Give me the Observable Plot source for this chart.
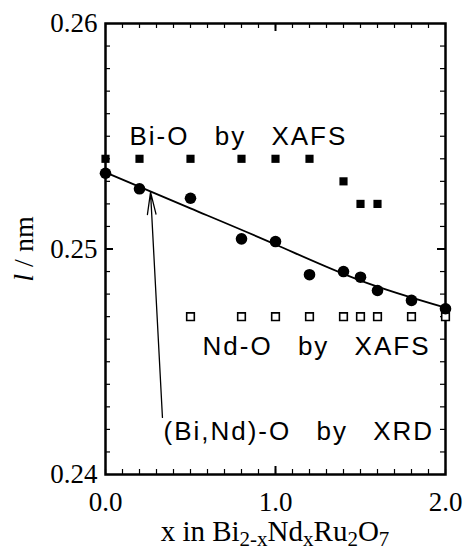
<!DOCTYPE html>
<html><head><meta charset="utf-8">
<script src="https://cdn.jsdelivr.net/npm/d3@7"></script>
<script src="https://cdn.jsdelivr.net/npm/@observablehq/plot@0.6"></script>
<style>
body{margin:0;background:#fff}
#chart{width:467px;height:553px}
g[aria-label="text"] text{letter-spacing:2px;word-spacing:16px}
</style>
</head><body><div id="chart"></div>
<script>
// (Bi,Nd)-O by XRD (filled circles)
const xrdX = [0, 0.2, 0.5, 0.8, 1.0, 1.2, 1.4, 1.5, 1.6, 1.8, 2.0];
const xrdY = [0.25336, 0.25267, 0.25225, 0.25045, 0.25033, 0.24886, 0.24900, 0.24875, 0.24816, 0.24772, 0.24735];
// Bi-O by XAFS (filled squares)
const biX = [0, 0.2, 0.5, 0.8, 1.0, 1.2, 1.4, 1.5, 1.6];
const biY = [0.254, 0.254, 0.254, 0.254, 0.254, 0.254, 0.253, 0.252, 0.252];
// Nd-O by XAFS (open squares)
const ndX = [0.5, 0.8, 1.0, 1.2, 1.4, 1.5, 1.6, 1.8, 2.0];
const ndY = [0.247, 0.247, 0.247, 0.247, 0.247, 0.247, 0.247, 0.247, 0.247];
// fitted curve through XRD data
const fitX = [0, 0.5, 1.0, 1.5, 2.0];
const fitY = [0.2534, 0.2518, 0.2502, 0.2486, 0.2474];
// ticks
const xTickValues = [0, 1, 2];
const xTickLabels = ["0.0", "1.0", "2.0"];
const yTickValues = [0.24, 0.25, 0.26];
const yTickLabels = ["0.24", "0.25", "0.26"];
const xMinorTicks = [0,0.1,0.2,0.3,0.4,0.5,0.6,0.7,0.8,0.9,1.0,1.1,1.2,1.3,1.4,1.5,1.6,1.7,1.8,1.9,2.0];
const yMinorTicks = [0.240,0.241,0.242,0.243,0.244,0.245,0.246,0.247,0.248,0.249,0.250,0.251,0.252,0.253,0.254,0.255,0.256,0.257,0.258,0.259,0.260];
const xMajorInner = [1.0];
const yMajorInner = [0.25];
// annotations
const annText = ["Bi-O by XAFS", "Nd-O by XAFS", "(Bi,Nd)-O by XRD"];
const annX = [0.141, 0.571, 0.341];
const annY = [0.25463, 0.24532, 0.24151];
// arrow from label to curve
const arrowX1 = [0.335], arrowY1 = [0.24253], arrowX2 = [0.265], arrowY2 = [0.25252];

const xrd = xrdX.map((x, i) => ({x, y: xrdY[i]}));
const bi = biX.map((x, i) => ({x, y: biY[i]}));
const nd = ndX.map((x, i) => ({x, y: ndY[i]}));
const fit = fitX.map((x, i) => ({x, y: fitY[i]}));
const ann = annText.map((t, i) => ({t, x: annX[i], y: annY[i]}));
const arrows = arrowX1.map((x1, i) => ({x1, y1: arrowY1[i], x2: arrowX2[i], y2: arrowY2[i]}));

const W = 340, H = 451;
const chart = Plot.plot({
  width: 467, height: 553,
  marginTop: 23, marginBottom: 79, marginLeft: 105, marginRight: 22,
  x: {domain: [0, 2]},
  y: {domain: [0.24, 0.26]},
  style: {fontFamily: "'Liberation Serif', 'Times New Roman', serif", background: "white", color: "black"},
  marks: [
    Plot.tickY(yMinorTicks, {y: d => d, insetRight: W - 5, strokeWidth: 1.2}),
    Plot.tickY(yMinorTicks, {y: d => d, insetLeft: W - 5, strokeWidth: 1.2}),
    Plot.tickY(yMajorInner, {y: d => d, insetRight: W - 8, strokeWidth: 2}),
    Plot.tickY(yMajorInner, {y: d => d, insetLeft: W - 8, strokeWidth: 2}),
    Plot.tickX(xMinorTicks, {x: d => d, insetBottom: H - 5, strokeWidth: 1.2}),
    Plot.tickX(xMinorTicks, {x: d => d, insetTop: H - 5, strokeWidth: 1.2}),
    Plot.tickX(xMajorInner, {x: d => d, insetBottom: H - 8, strokeWidth: 2}),
    Plot.tickX(xMajorInner, {x: d => d, insetTop: H - 8, strokeWidth: 2}),
    Plot.frame({strokeWidth: 2.5}),
    Plot.axisY(yTickValues, {anchor: "left", tickSize: 0, tickPadding: 8, fontSize: 27,
      tickFormat: d => yTickLabels[yTickValues.indexOf(d)], label: null}),
    Plot.axisX(xTickValues, {anchor: "bottom", tickSize: 0, tickPadding: 17, fontSize: 27,
      tickFormat: d => xTickLabels[xTickValues.indexOf(d)], label: null}),
    Plot.line(fit, {x: "x", y: "y", curve: "natural", strokeWidth: 1.8, stroke: "black"}),
    Plot.arrow(arrows, {x1: "x1", y1: "y1", x2: "x2", y2: "y2", headLength: 26, headAngle: 22, strokeWidth: 1.3, stroke: "black"}),
    Plot.dot(nd, {x: "x", y: "y", symbol: "square", r: 4.3, stroke: "black", fill: "white", strokeWidth: 1.6}),
    Plot.dot(bi, {x: "x", y: "y", symbol: "square", r: 4.6, fill: "black", stroke: "none"}),
    Plot.dot(xrd, {x: "x", y: "y", r: 5.8, fill: "black", stroke: "none"}),
    Plot.text(ann, {x: "x", y: "y", text: "t", textAnchor: "start", lineAnchor: "bottom",
      fontSize: 26, fontFamily: "'Liberation Sans', Arial, sans-serif", fill: "black"})
  ]
});
document.getElementById("chart").appendChild(chart);

const svg = d3.select(chart);
// x-axis label with subscripts
const xl = svg.append("text")
  .attr("x", 275).attr("y", 541)
  .attr("text-anchor", "middle")
  .attr("font-family", "'Liberation Serif', 'Times New Roman', serif")
  .attr("font-size", 29).attr("fill", "black");
const parts = [["x in Bi", false], ["2-x", true], ["Nd", false], ["x", true], ["Ru", false], ["2", true], ["O", false], ["7", true]];
let shifted = false;
parts.forEach(([t, sub]) => {
  const ts = xl.append("tspan").text(t);
  if (sub) { ts.attr("font-size", 21); if (!shifted) { ts.attr("dy", 5); shifted = true; } }
  else if (shifted) { ts.attr("dy", -5); shifted = false; }
});
// y-axis label
const yl = svg.append("text")
  .attr("transform", "translate(33,249) rotate(-90)")
  .attr("text-anchor", "middle")
  .attr("font-family", "'Liberation Serif', 'Times New Roman', serif")
  .attr("font-size", 28).attr("fill", "black");
yl.append("tspan").attr("font-style", "italic").text("l");
yl.append("tspan").text(" / nm");
</script>
</body></html>
